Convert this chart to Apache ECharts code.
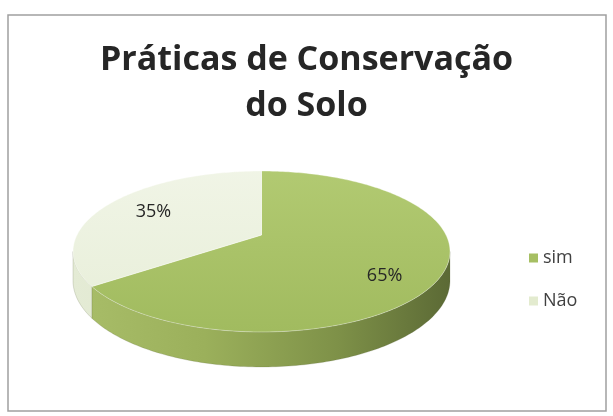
<!DOCTYPE html>
<html>
<head>
<meta charset="utf-8">
<script src="https://cdn.jsdelivr.net/npm/echarts@6/dist/echarts.min.js"></script>
<style>
html,body{margin:0;padding:0;background:#fff;}
#c{width:613px;height:416px;}
</style>
</head>
<body>
<div id="c"></div>
<script>
// ---- data ----
const titleText = 'Práticas de Conservação\ndo Solo';
const categories = ['sim', 'Não'];
const values = [65, 35];

// ---- styles ----
const topColors = [['#b3cb73', '#a1bb5f'], ['#f1f5e7', '#e7eed8']];
const wallColors = [
  [[0, '#a9be69'], [0.35, '#9bb05b'], [0.7, '#7e9148'], [1, '#5b6935']],
  [[0, '#e4ebd5'], [1, '#d3ddc0']]
];
const legendColors = ['#a6bf63', '#e3ebcf'];

// 3D pie projection parameters (perspective)
const CX = 261.5, CY = 235, F = 184.5, FV = 77.1, K = 0.205, HC = 27.8;

const total = values.reduce((a, b) => a + b, 0);
const starts = [];
let acc = 0;
values.forEach(v => { starts.push(acc); acc += v; });

function proj(thetaDeg, r, down) {
  const t = thetaDeg * Math.PI / 180;
  const X = r * Math.sin(t), Z = r * Math.cos(t);
  const s = 1 / (1 + K * Z);
  return [CX + F * X * s, CY - FV * Z * s + down * s];
}
function arc(a, b, r, down) {
  const pts = [];
  const n = Math.max(2, Math.ceil(Math.abs(b - a)));
  for (let i = 0; i <= n; i++) pts.push(proj(a + (b - a) * i / n, r, down));
  return pts;
}
const visLo = Math.acos(-K) * 180 / Math.PI;
const visHi = 360 - visLo;

function makeRender(idx) {
  return function (params, api) {
    const v = api.value(0);
    const a = starts[idx] / total * 360;
    const b = a + v / total * 360;
    const children = [];
    const lo = Math.max(a, visLo), hi = Math.min(b, visHi);
    if (hi > lo) {
      const pts = arc(lo, hi, 1, 0).concat(arc(hi, lo, 1, HC));
      children.push({
        type: 'polygon',
        shape: { points: pts },
        style: {
          fill: { type: 'linear', x: CX - F * 1.03, y: 0, x2: CX + F * 1.03, y2: 0, global: true,
            colorStops: wallColors[idx].map(c => ({ offset: c[0], color: c[1] })) },
          stroke: 'rgba(90,100,60,0.25)', lineWidth: 0.8
        }
      });
    }
    const topPts = [proj(0, 0, 0)].concat(arc(a, b, 1, 0));
    children.push({
      type: 'polygon',
      shape: { points: topPts },
      style: {
        fill: { type: 'linear', x: 0, y: CY - FV, x2: 0, y2: CY + FV * 1.25, global: true,
          colorStops: [{ offset: 0, color: topColors[idx][0] }, { offset: 1, color: topColors[idx][1] }] },
        stroke: 'rgba(255,255,255,0.6)', lineWidth: 0.6
      }
    });
    const m = (a + b) / 2;
    const lp = proj(m, 0.7, 0);
    const mt = m * Math.PI / 180;
    let ly = lp[1];
    if (Math.cos(mt) < -K) ly += HC * (1 / (1 + K * 0.7 * Math.cos(mt))) / 2;
    children.push({
      type: 'text',
      x: lp[0], y: ly,
      style: {
        text: Math.round(v / total * 100) + '%',
        fill: '#262626',
        font: '18px "Open Sans"',
        align: 'center', verticalAlign: 'middle'
      }
    });
    return { type: 'group', children: children };
  };
}

const chart = echarts.init(document.getElementById('c'), null, { renderer: 'canvas' });
chart.setOption({
  backgroundColor: '#ffffff',
  animation: false,
  color: legendColors,
  title: {
    text: titleText,
    left: 'center',
    top: 32,
    textStyle: { fontFamily: 'Open Sans', fontSize: 34, fontWeight: 'bold', color: '#262626', lineHeight: 46 }
  },
  legend: {
    orient: 'vertical',
    left: 524,
    top: 244,
    icon: 'rect',
    itemWidth: 9,
    itemHeight: 9,
    itemGap: 25,
    data: categories,
    textStyle: { fontFamily: 'Open Sans', fontSize: 18, color: '#404040', lineHeight: 18 }
  },
  graphic: [{
    type: 'rect',
    shape: { x: 8, y: 15, width: 598, height: 396 },
    style: { fill: 'none', stroke: '#a0a0a0', lineWidth: 1.5 },
    silent: true
  }],
  series: categories.map((name, i) => ({
    type: 'custom',
    name: name,
    coordinateSystem: 'none',
    itemStyle: { color: legendColors[i] },
    renderItem: makeRender(i),
    data: [[values[i]]]
  }))
});
</script>
</body>
</html>
